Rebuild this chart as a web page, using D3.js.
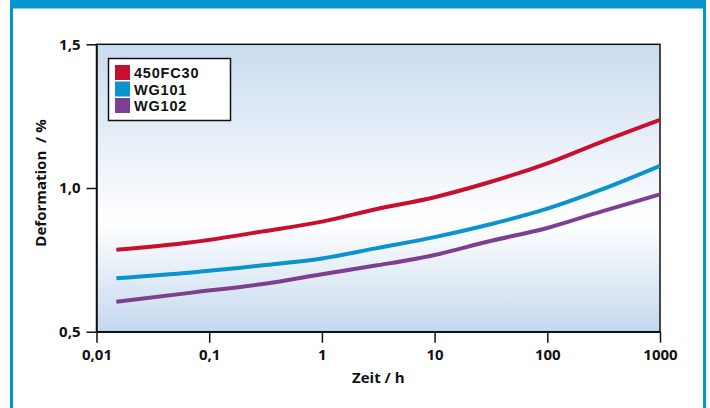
<!DOCTYPE html>
<html>
<head>
<meta charset="utf-8">
<script src="https://cdn.jsdelivr.net/npm/d3@7"></script>
<style>
  html, body { margin: 0; padding: 0; background: #fff; }
  svg { display: block; font-family: "Open Sans", "DejaVu Sans", sans-serif; font-weight: 700; }
</style>
</head>
<body>
<svg id="chart" width="710" height="408"></svg>
<script>
// Creep deformation over time (log scale) for three materials
const times = [0.015, 0.07, 0.3, 1, 3, 10, 30, 100, 300, 1000];
const seriesNames = ["450FC30", "WG101", "WG102"];
const seriesColors = ["#c8102e", "#0a93cf", "#7d3f8f"];
const def450FC30 = [0.785, 0.811, 0.849, 0.883, 0.926, 0.968, 1.019, 1.086, 1.160, 1.237];
const defWG101   = [0.686, 0.706, 0.731, 0.755, 0.790, 0.829, 0.872, 0.928, 0.994, 1.077];
const defWG102   = [0.604, 0.636, 0.666, 0.700, 0.730, 0.767, 0.814, 0.861, 0.918, 0.978];
const xTicks = [0.01, 0.1, 1, 10, 100, 1000];
const xTickLabels = ["0,01", "0,1", "1", "10", "100", "1000"];
const yTicks = [0.5, 1.0, 1.5];
const yTickLabels = ["0,5", "1,0", "1,5"];

const series = [def450FC30, defWG101, defWG102].map((vals, i) => ({
  name: seriesNames[i],
  color: seriesColors[i],
  points: times.map((t, j) => ({ t, v: vals[j] }))
}));

const svg = d3.select("#chart");
const frameColor = "#0795d0";

// Outer frame: thick top band, thin sides
svg.append("rect").attr("x", 10).attr("y", 0).attr("width", 696).attr("height", 8.5).attr("fill", frameColor);
svg.append("rect").attr("x", 10).attr("y", 0).attr("width", 3).attr("height", 408).attr("fill", frameColor);
svg.append("rect").attr("x", 703).attr("y", 0).attr("width", 3).attr("height", 408).attr("fill", frameColor);

const plot = { left: 96.5, right: 660, top: 44.3, bottom: 331.7 };

const x = d3.scaleLog().domain([0.01, 1000]).range([plot.left, plot.right]);
const y = d3.scaleLinear().domain([0.5, 1.5]).range([plot.bottom, plot.top]);

// Plot background gradient
const defs = svg.append("defs");
const grad = defs.append("linearGradient").attr("id", "bg").attr("x1", 0).attr("y1", 0).attr("x2", 0).attr("y2", 1);
grad.append("stop").attr("offset", "0%").attr("stop-color", "#cadcef");
grad.append("stop").attr("offset", "62%").attr("stop-color", "#ffffff");
grad.append("stop").attr("offset", "100%").attr("stop-color", "#c5d8ee");

svg.append("rect")
  .attr("x", plot.left).attr("y", plot.top)
  .attr("width", plot.right - plot.left).attr("height", plot.bottom - plot.top)
  .attr("fill", "url(#bg)")
  .attr("stroke", "#111").attr("stroke-width", 1.5);

// Axes
const xAxis = d3.axisBottom(x).tickValues(xTicks)
  .tickFormat((d, i) => xTickLabels[i]).tickSize(11).tickPadding(7).tickSizeOuter(0);
const gx = svg.append("g").attr("transform", `translate(0,${plot.bottom})`).call(xAxis);

const yAxis = d3.axisLeft(y).tickValues(yTicks)
  .tickFormat((d, i) => yTickLabels[i]).tickSize(10).tickPadding(6).tickSizeOuter(0);
const gy = svg.append("g").attr("transform", `translate(${plot.left},0)`).call(yAxis);

[gx, gy].forEach(g => {
  g.select(".domain").attr("stroke", "#111").attr("stroke-width", 1.5);
  g.selectAll(".tick line").attr("stroke", "#111").attr("stroke-width", 1.5);
  g.selectAll(".tick text").attr("fill", "#111")
    .style("font-family", "'Open Sans', sans-serif").style("font-weight", 700).style("font-size", "15px");
});

// Axis titles
svg.append("text")
  .attr("x", (plot.left + plot.right) / 2).attr("y", 383)
  .attr("text-anchor", "middle").attr("font-size", 15).attr("fill", "#111")
  .text("Zeit / h");

svg.append("text")
  .attr("transform", `translate(46,183) rotate(-90)`)
  .attr("text-anchor", "middle").attr("font-size", 15).attr("fill", "#111")
  .text("Deformation\u00a0\u00a0/ %");

// Curves
const line = d3.line().x(d => x(d.t)).y(d => y(d.v)).curve(d3.curveMonotoneX);
svg.append("g").selectAll("path").data(series).join("path")
  .attr("d", d => line(d.points))
  .attr("fill", "none")
  .attr("stroke", d => d.color)
  .attr("stroke-width", 4)
  .attr("stroke-linecap", "butt");

// Legend (compact font so the tightly stacked rows stay clear of each other)
const lg = svg.append("g");
lg.append("rect").attr("x", 108.5).attr("y", 58.5).attr("width", 122).attr("height", 62)
  .attr("fill", "#fff").attr("stroke", "#111").attr("stroke-width", 1.5);
const items = lg.selectAll("g.item").data(series).join("g").attr("class", "item")
  .attr("transform", (d, i) => `translate(115,${65 + i * 16.5})`);
items.append("rect").attr("width", 15).attr("height", 15).attr("fill", d => d.color);
items.append("text").attr("x", 19).attr("y", 13)
  .style("font-family", "'Liberation Sans', Arial, sans-serif")
  .attr("font-size", 14.5).attr("letter-spacing", 0.8).attr("fill", "#111")
  .text(d => d.name);
</script>
</body>
</html>
